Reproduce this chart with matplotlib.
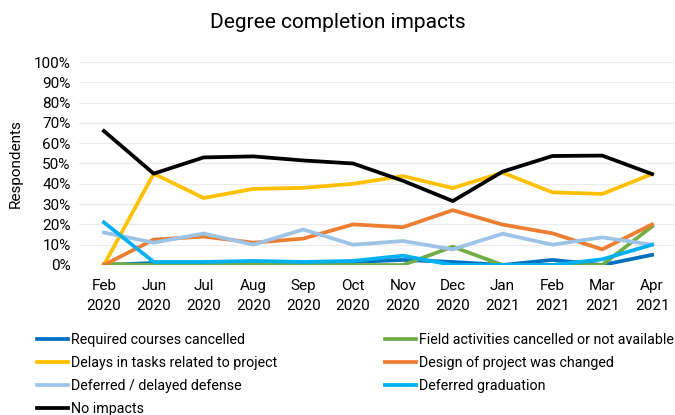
import matplotlib
matplotlib.use('Agg')
import matplotlib.pyplot as plt

plt.rcParams['font.family'] = ['Roboto', 'DejaVu Sans']

months = ['Feb\n2020', 'Jun\n2020', 'Jul\n2020', 'Aug\n2020', 'Sep\n2020', 'Oct\n2020',
          'Nov\n2020', 'Dec\n2020', 'Jan\n2021', 'Feb\n2021', 'Mar\n2021', 'Apr\n2021']

required = [0, 1, 1, 1.5, 1, 1.5, 2.5, 1.5, 0, 2.5, 0, 5]
field = [0.5, 0, 0, 0.5, 0, 0, 0, 9, 0, 0, 0, 19]
delays = [0, 45, 33, 37.5, 38, 40, 43.8, 37.9, 45.5, 35.8, 35, 44.8]
design = [0, 12.5, 14, 11, 13, 20, 18.6, 27, 19.9, 15.6, 7.7, 20]
defense = [16, 11, 15.5, 10, 17.5, 10, 11.8, 7.7, 15.4, 10, 13.6, 10]
graduation = [21, 1.5, 1.5, 2, 1.5, 2, 4.6, 0, 0, 0, 2.8, 10]
no_impacts = [66, 45, 53, 53.5, 51.5, 50, 41.5, 31.5, 46, 53.7, 53.9, 44.8]

fig = plt.figure(figsize=(6.75, 4.15), dpi=100)
ax = fig.add_axes([79/675, 1 - 265/415, 598/675, 203/415])

x = range(len(months))
lw = 2.7
l1, = ax.plot(x, [v/100 for v in required], color='#0070C0', lw=lw, label='Required courses cancelled')
l2, = ax.plot(x, [v/100 for v in field], color='#70AD47', lw=lw, label='Field activities cancelled or not available')
l3, = ax.plot(x, [v/100 for v in delays], color='#FFC000', lw=lw, label='Delays in tasks related to project')
l4, = ax.plot(x, [v/100 for v in design], color='#ED7D31', lw=lw, label='Design of project was changed')
l5, = ax.plot(x, [v/100 for v in defense], color='#9DC3E6', lw=lw, label='Deferred / delayed defense')
l6, = ax.plot(x, [v/100 for v in graduation], color='#00B0F0', lw=lw, label='Deferred graduation')
l7, = ax.plot(x, [v/100 for v in no_impacts], color='black', lw=lw, label='No impacts')

ax.set_xlim(-0.5, 11.5)
ax.set_ylim(0, 1)
ax.set_yticks([i/10 for i in range(11)])
ax.set_yticklabels([f'{i*10}%' for i in range(11)], fontsize=11)
ax.set_xticks(list(x))
ax.set_xticklabels(months, fontsize=11, linespacing=1.55)
ax.tick_params(length=0, pad=6)
ax.tick_params(axis='x', pad=10)
ax.grid(axis='y', color='#EBEBEB', lw=0.8)
ax.set_axisbelow(True)
for s in ax.spines.values():
    s.set_visible(False)
ax.set_ylabel('Respondents', fontsize=11, labelpad=8)

fig.text(0.5, 1 - 23/415, 'Degree completion impacts', ha='center', va='center', fontsize=15)

# two legend columns placed separately
leg_kw = dict(loc='upper left', frameon=False, fontsize=10.3, handlelength=2.2,
              handletextpad=0.15, labelspacing=0.62, borderpad=0, borderaxespad=0)
fig.legend(handles=[l1, l3, l5, l7], bbox_to_anchor=(37/675, 1 - 333/415), **leg_kw)
fig.legend(handles=[l2, l4, l6], bbox_to_anchor=(385/675, 1 - 333/415), **leg_kw)

fig.savefig('out.png', dpi=100)
